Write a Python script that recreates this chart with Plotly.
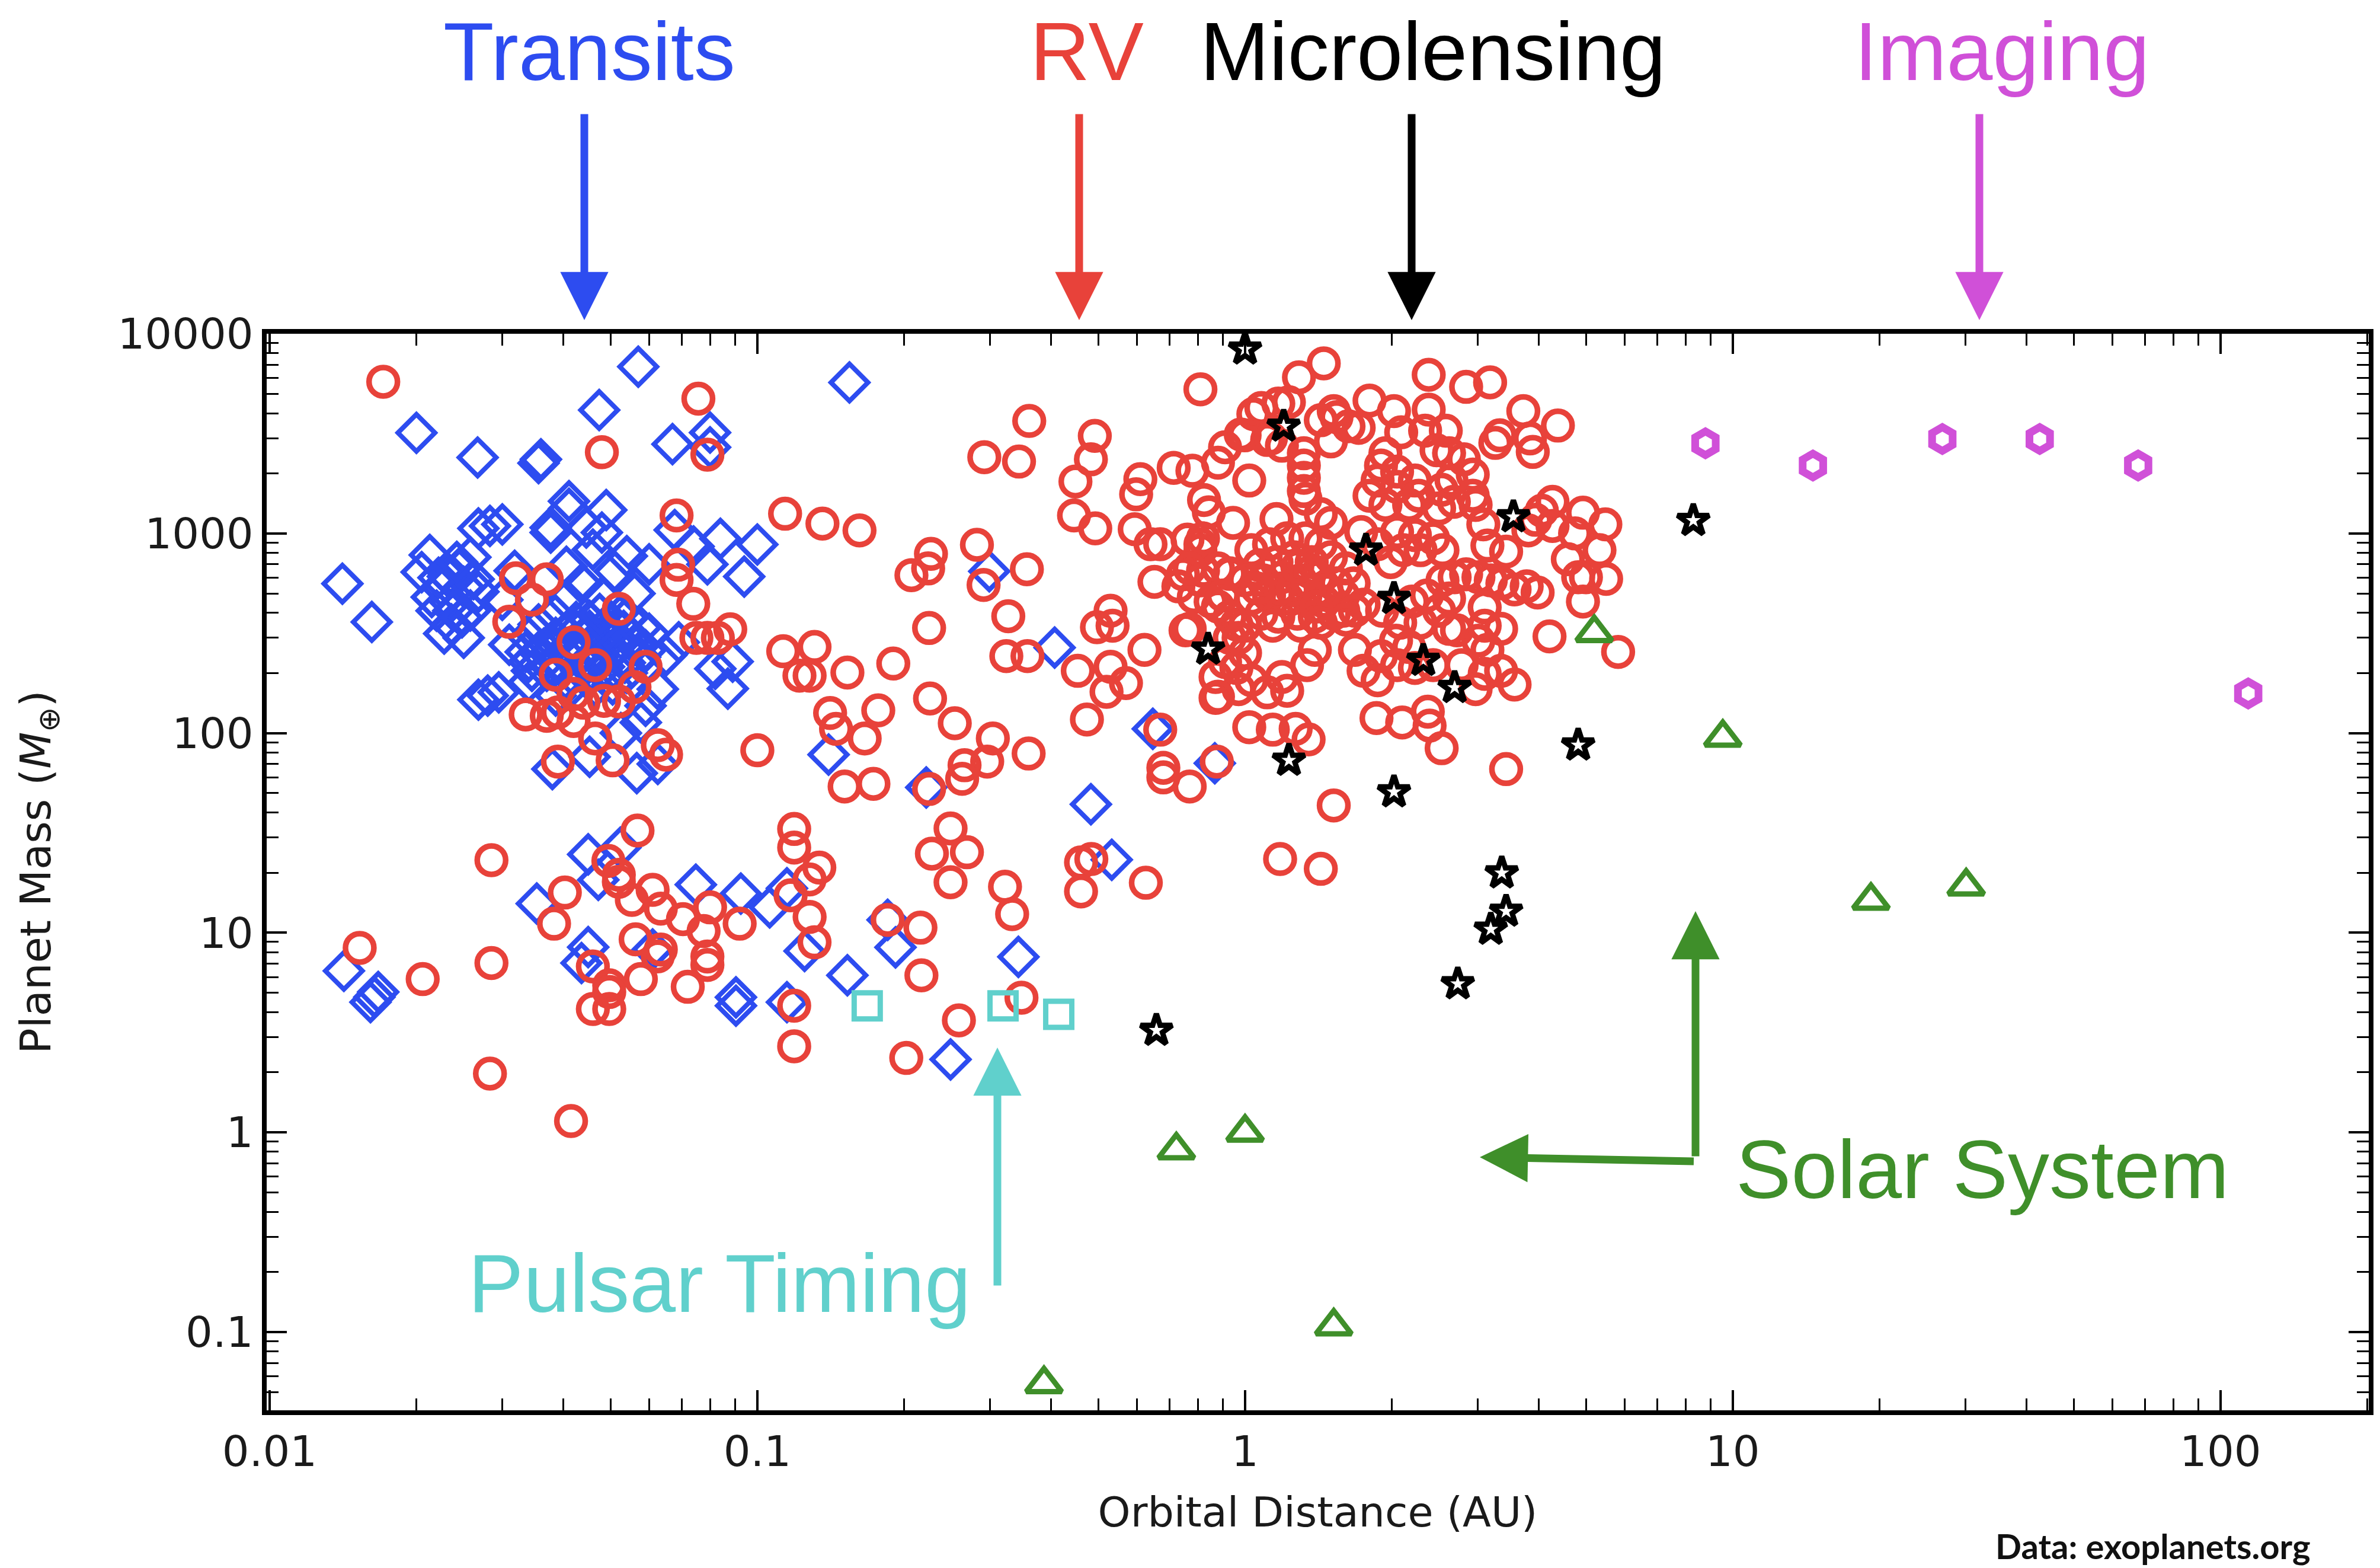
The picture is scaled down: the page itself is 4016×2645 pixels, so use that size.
import plotly.graph_objects as go

# ---------------- data (orbital distance in AU, planet mass in Earth masses) -------------
transits = [
    (0.057, 6840), (0.0474, 4150), (0.020, 3190), (0.0267, 2400), (0.036, 2350), (0.0356, 2250),
    (0.067, 2800), (0.080, 3200), (0.080, 2700), (0.0141, 560), (0.0162, 360), (0.0213, 780),
    (0.0268, 1060), (0.0283, 1090), (0.030, 1110), (0.0411, 1450), (0.0411, 1330), (0.0377, 1070),
    (0.0377, 1010), (0.049, 1310), (0.0446, 1070), (0.048, 1010), (0.046, 830), (0.0677, 1040),
    (0.074, 860), (0.084, 940), (0.100, 880), (0.079, 700), (0.094, 608), (0.054, 770), (0.060, 700),
    (0.051, 645), (0.0406, 680), (0.0437, 560), (0.048, 480), (0.056, 500), (0.0406, 465),
    (0.0318, 650), (0.030, 465), (0.0268, 510), (0.0258, 411), (0.025, 300), (0.0228, 315),
    (0.022, 410), (0.0215, 480), (0.0232, 608), (0.0245, 660), (0.025, 540), (0.0225, 540),
    (0.0238, 410), (0.0236, 350), (0.0258, 760), (0.031, 277), (0.034, 300), (0.0356, 350),
    (0.0386, 300), (0.0418, 277), (0.0453, 325), (0.049, 300), (0.0532, 325), (0.056, 277),
    (0.0525, 237), (0.0475, 245), (0.043, 237), (0.039, 228), (0.0356, 255), (0.034, 228),
    (0.037, 205), (0.0404, 187), (0.0446, 194), (0.049, 194), (0.054, 200), (0.059, 260),
    (0.060, 315), (0.065, 245), (0.069, 285), (0.082, 210), (0.089, 228), (0.087, 167),
    (0.034, 180), (0.0386, 154), (0.0268, 147), (0.028, 154), (0.0295, 160), (0.059, 137),
    (0.0625, 166), (0.0453, 76), (0.0566, 63), (0.0625, 70), (0.038, 66), (0.0525, 100),
    (0.0577, 113), (0.0349, 325), (0.0373, 277), (0.0418, 338), (0.046, 277), (0.0505, 255),
    (0.040, 255), (0.0453, 365), (0.050, 365), (0.054, 380), (0.0577, 338),
    (0.0365, 265), (0.0395, 215), (0.0405, 320), (0.0435, 205), (0.0445, 300), (0.0465, 250),
    (0.0485, 215), (0.0495, 330), (0.0515, 275), (0.0535, 225), (0.0555, 300), (0.0575, 240),
    (0.0425, 360), (0.0475, 395), (0.0385, 390), (0.0335, 255), (0.0345, 205), (0.0505, 175),
    (0.0465, 170), (0.0415, 170), (0.0235, 450), (0.0248, 380), (0.0222, 600), (0.0262, 590),
    (0.0242, 720), (0.0205, 640),
    (0.1545, 5700), (0.299, 646), (0.407, 268), (0.647, 105), (0.14, 78), (0.222, 53.4),
    (0.867, 70.6), (0.483, 44),
    (0.0142, 6.44), (0.0161, 4.49), (0.0164, 4.76), (0.0167, 5.05), (0.0353, 14.0), (0.045, 24.7),
    (0.0524, 26.7), (0.0472, 18.4), (0.045, 8.47), (0.0436, 7.05), (0.061, 8.24), (0.0748, 17.4),
    (0.0925, 15.7), (0.106, 13.4), (0.115, 16.7), (0.0904, 4.75), (0.0904, 4.31), (0.115, 4.49),
    (0.533, 23.2), (0.125, 8.1), (0.153, 6.12), (0.192, 8.45), (0.185, 11.6), (0.343, 7.57),
    (0.249, 2.32),
]

radial_velocity = [
    (0.0171, 5750), (0.0757, 4730), (0.048, 2550), (0.079, 2480), (0.0683, 1230), (0.114, 1255),
    (0.0688, 697), (0.0683, 585), (0.0739, 444), (0.075, 300), (0.079, 300), (0.083, 300),
    (0.088, 331), (0.113, 257), (0.032, 596), (0.037, 589), (0.0345, 466), (0.031, 361),
    (0.052, 419), (0.042, 285), (0.0465, 219), (0.0386, 196), (0.059, 215), (0.056, 170),
    (0.052, 144), (0.0485, 145), (0.044, 142), (0.042, 157), (0.0335, 124), (0.037, 122),
    (0.039, 127), (0.042, 115), (0.0465, 94), (0.039, 72), (0.0505, 73), (0.0625, 87),
    (0.065, 78), (0.1, 82),
    (0.81, 5270), (0.361, 3660), (0.492, 3080), (0.292, 2410), (0.344, 2290), (0.483, 2350),
    (0.449, 1820), (0.446, 1230), (0.493, 1060), (0.714, 2130), (0.78, 2060), (0.88, 2260),
    (0.91, 2700), (0.98, 3130), (0.61, 1870), (0.598, 1570), (0.824, 1470), (0.843, 1275),
    (0.945, 1130), (0.594, 1050), (0.64, 883), (0.67, 883), (0.762, 931), (0.81, 883),
    (0.746, 624), (0.652, 572), (0.82, 650), (0.93, 627), (0.785, 480), (0.88, 430), (0.96, 350),
    (0.755, 327), (0.622, 261), (0.497, 339), (0.53, 410), (0.535, 345), (0.136, 1120),
    (0.162, 1035), (0.282, 877), (0.227, 790), (0.224, 668), (0.207, 618), (0.291, 552),
    (0.357, 662), (0.327, 385), (0.225, 336), (0.131, 270), (0.122, 194), (0.128, 194),
    (0.153, 201), (0.19, 223), (0.324, 243), (0.358, 243), (0.454, 205), (0.53, 215), (0.52, 161),
    (0.57, 178), (0.474, 117), (0.67, 104), (0.87, 150), (0.226, 149), (0.254, 112), (0.141, 126),
    (0.145, 105), (0.166, 94), (0.177, 130), (0.304, 94), (0.296, 72), (0.266, 69), (0.263, 59),
    (0.36, 79), (0.151, 54), (0.173, 55.7), (0.225, 52.5), (0.68, 67), (0.68, 60), (0.77, 54),
    (0.875, 72), (0.73, 543), (0.93, 300),
    (1.29, 6050), (1.45, 7110), (2.38, 6230), (2.84, 5420), (3.18, 5710), (1.80, 4630),
    (2.02, 4100), (2.38, 4170), (3.72, 4100), (4.38, 3470), (3.33, 3100), (3.26, 2840),
    (3.84, 2990), (3.89, 2560), (2.58, 3270), (2.09, 3210), (2.34, 3270), (1.54, 3820),
    (1.63, 3440), (1.71, 3380), (1.52, 4100), (1.50, 2890), (1.08, 4250), (1.17, 4470),
    (1.23, 4540), (0.998, 3100), (1.11, 2940), (1.19, 2750), (1.32, 2520), (1.32, 2190),
    (1.32, 1900), (1.32, 1630), (1.33, 1490), (1.02, 1840), (1.16, 1180), (1.43, 1250),
    (1.50, 1130), (1.94, 2520), (1.90, 2190), (2.05, 2040), (1.87, 1840), (2.05, 1710),
    (2.23, 1840), (1.80, 1545), (1.94, 1390), (2.17, 1390), (2.27, 1545), (2.47, 2610),
    (2.62, 2520), (2.81, 2350), (2.93, 1970), (2.65, 1840), (2.53, 1655), (2.93, 1545),
    (2.68, 1440), (2.50, 1335), (2.97, 1390), (3.08, 1110), (3.14, 869), (3.43, 811),
    (3.81, 1035), (4.27, 1440), (4.27, 1090), (4.93, 1270), (5.48, 1110), (4.75, 1000),
    (5.33, 824), (4.59, 743), (5.0, 603), (5.5, 592), (4.82, 603), (4.93, 456), (4.21, 305),
    (5.82, 255), (3.98, 506), (3.78, 543), (3.57, 524), (3.37, 562), (3.19, 582), (3.01, 603),
    (2.84, 624), (2.69, 603), (2.54, 582), (2.62, 472), (3.10, 426), (3.10, 345), (3.35, 333),
    (3.01, 290), (3.14, 261), (2.72, 327), (2.50, 410), (2.36, 489), (2.20, 456), (2.29, 357),
    (2.08, 357), (1.91, 410), (1.75, 440), (1.67, 562), (1.59, 410), (1.73, 1016), (2.05, 1016),
    (2.23, 980), (2.43, 945), (2.54, 824), (2.11, 824), (2.29, 824), (1.99, 718), (1.87, 883),
    (1.03, 824), (1.12, 883), (1.22, 945), (1.33, 945), (1.43, 883), (1.07, 693), (1.16, 718),
    (1.26, 760), (1.37, 718), (1.50, 760), (1.61, 668), (1.0, 582), (1.09, 582), (1.19, 603),
    (1.30, 582), (1.41, 603), (1.54, 562), (1.03, 472), (1.12, 489), (1.22, 472), (1.33, 489),
    (1.45, 456), (1.59, 489), (1.08, 396), (1.17, 383), (1.28, 396), (1.39, 383), (1.52, 396),
    (1.68, 410), (1.0, 345), (1.14, 345), (1.30, 345), (1.43, 357), (1.61, 370),
    (0.81, 824), (0.88, 668), (0.93, 632), (0.81, 582), (0.90, 489), (0.85, 456), (0.77, 333),
    (0.93, 383), (0.82, 945), (0.77, 668),
    (0.97, 300), (1.0, 252), (0.96, 212), (1.03, 184), (0.97, 166), (0.87, 191), (0.91, 227),
    (0.88, 152), (1.11, 160), (1.22, 163), (1.19, 191), (1.34, 219), (1.39, 261), (1.68, 261),
    (1.75, 205), (1.87, 184), (1.90, 243), (2.04, 290), (2.17, 270), (2.05, 219), (2.23, 212),
    (2.43, 219), (2.78, 219), (3.10, 198), (3.35, 205), (3.57, 175), (2.97, 166), (2.62, 333),
    (1.86, 119), (2.10, 113), (2.37, 128), (2.39, 109), (2.53, 84), (1.02, 107), (1.14, 104),
    (1.27, 105), (1.35, 93), (3.43, 66), (1.52, 43.4),
    (1.04, 3960), (1.13, 2990), (1.43, 3690), (4.06, 1300), (3.94, 1170),
    (1.25, 520), (1.36, 640), (1.18, 530), (1.47, 520), (1.28, 680), (1.40, 430), (1.06, 530),
    (0.0153, 8.4), (0.0206, 5.86), (0.0285, 23.1), (0.0285, 7.05), (0.0283, 1.97), (0.0415, 1.14),
    (0.0403, 15.9), (0.0383, 11.1), (0.0568, 32.5), (0.0495, 22.9), (0.052, 19.5), (0.052, 18.0),
    (0.0553, 14.6), (0.061, 16.4), (0.0634, 13.2), (0.0704, 11.7), (0.080, 13.4), (0.0776, 10.2),
    (0.079, 7.6), (0.079, 6.9), (0.072, 5.36), (0.0563, 9.27), (0.0634, 8.24), (0.0625, 7.62),
    (0.0577, 5.86), (0.046, 6.78), (0.0497, 5.46), (0.0497, 5.05), (0.046, 4.15), (0.0497, 4.15),
    (0.092, 11.1), (0.119, 4.31), (0.119, 2.70), (0.119, 33.1), (0.119, 26.7), (0.117, 15.4),
    (0.134, 21.2), (0.128, 18.5), (0.128, 12.0), (0.131, 8.95), (0.185, 11.6), (0.216, 10.6),
    (0.217, 6.12), (0.249, 33.3), (0.228, 24.9), (0.269, 25.3), (0.249, 17.9), (0.322, 17.0),
    (0.333, 12.4), (0.259, 3.64), (0.348, 4.73), (0.202, 2.36), (0.461, 22.5), (0.484, 23.4),
    (0.461, 16.1), (0.626, 17.8), (1.18, 23.4), (1.43, 20.9),
]

microlensing = [
    (1.0, 8370), (1.20, 3440), (1.77, 824), (3.55, 1210), (2.02, 472), (0.84, 263), (2.32, 231),
    (2.69, 169), (1.23, 73), (2.02, 50.7), (4.82, 87), (8.3, 1160), (3.36, 19.9), (3.43, 12.8),
    (3.19, 10.4), (2.73, 5.54), (0.658, 3.24),
]

imaging = [(8.79, 2830), (14.6, 2190), (26.9, 2970), (42.6, 2970), (67.8, 2190), (114, 158)]

pulsar_timing = [(0.168, 4.3), (0.319, 4.3), (0.415, 3.9)]

solar_system = [(0.387, 0.055), (0.723, 0.815), (1.0, 1.0), (1.52, 0.107),
                (5.2, 318), (9.54, 95), (19.2, 14.5), (30.1, 17.1)]

x_tick_vals = [0.01, 0.1, 1, 10, 100]
x_tick_text = ["0.01", "0.1", "1", "10", "100"]
y_tick_vals = [0.1, 1, 10, 100, 1000, 10000]
y_tick_text = ["0.1", "1", "10", "100", "1000", "10000"]

# ---------------- styling -------------
BLUE = "#2d4cf0"
RED = "#e8423a"
BLACK = "#000000"
MAGENTA = "#d050d8"
TURQ = "#60d0cc"
GREEN = "#3f8f2a"

W, H = 4016, 2645
L, R, T, B = 450, 19, 563, 266
PW, PH = W - L - R, H - T - B


def px(X):
    return (X - L) / PW


def py(Y):
    return (H - B - Y) / PH


def add_series(fig, pts, name, symbol, color, size, lw):
    fig.add_trace(go.Scatter(
        x=[p[0] for p in pts], y=[p[1] for p in pts], mode="markers", name=name,
        marker=dict(symbol=symbol, size=size, color=color, line=dict(width=lw, color=color)),
        showlegend=False, hoverinfo="x+y+name"))


fig = go.Figure()
add_series(fig, transits, "Transits", "diamond-open", BLUE, 48, 8)
add_series(fig, radial_velocity, "RV", "circle-open", RED, 48, 9.5)
add_series(fig, microlensing, "Microlensing", "star-open", BLACK, 40, 9)
add_series(fig, imaging, "Imaging", "hexagon-open", MAGENTA, 40, 13)
add_series(fig, pulsar_timing, "Pulsar Timing", "square-open", TURQ, 44, 9)
add_series(fig, solar_system, "Solar System", "triangle-up-open", GREEN, 52, 9)

minor_x = [k * 10.0 ** d for d in range(-2, 3) for k in range(2, 10)]
minor_y = [k * 10.0 ** d for d in range(-2, 4) for k in range(2, 10)]

axis_common = dict(
    type="log", showgrid=False, zeroline=False, showline=True, linewidth=8, linecolor="black",
    mirror="ticks", ticks="inside", ticklen=34, tickwidth=4, tickcolor="black",
    tickfont=dict(family="DejaVu Sans", size=72, color="#1a1a1a"),
)

fig.update_xaxes(
    **axis_common, range=[-2.006, 2.304], tickmode="array", tickvals=x_tick_vals,
    ticktext=x_tick_text,
    minor=dict(tickmode="array", tickvals=minor_x, ticks="inside", ticklen=20, tickwidth=3,
               tickcolor="black", showgrid=False),
    title=dict(text="Orbital Distance (AU)", standoff=40,
               font=dict(family="DejaVu Sans", size=70, color="#1a1a1a")),
)
fig.update_yaxes(
    **axis_common, range=[-1.392, 4.0], tickmode="array", tickvals=y_tick_vals,
    ticktext=y_tick_text,
    minor=dict(tickmode="array", tickvals=minor_y, ticks="inside", ticklen=20, tickwidth=3,
               tickcolor="black", showgrid=False),
    title=dict(text="Planet Mass (<i>M</i><sub>⊕</sub>)", standoff=92,
               font=dict(family="DejaVu Sans", size=72, color="#1a1a1a")),
)

LABEL_FONT = "Liberation Sans, Arial, sans-serif"
annotations = []

# method labels along the top
for text, cx, color in [("Transits", 994, BLUE), ("RV", 1834, RED),
                        ("Microlensing", 2418, BLACK), ("Imaging", 3378, MAGENTA)]:
    annotations.append(dict(xref="paper", yref="paper", x=px(cx), y=py(86), text=text,
                            showarrow=False, xanchor="center", yanchor="middle",
                            font=dict(family=LABEL_FONT, size=140, color=color)))

# downward arrows
for ax_x, color in [(986, BLUE), (1821, RED), (2382, BLACK), (3340, MAGENTA)]:
    annotations.append(dict(xref="paper", yref="paper", x=px(ax_x), y=py(540), text=" ",
                            showarrow=True, axref="pixel", ayref="pixel", ax=0, ay=-356,
                            arrowhead=2, arrowsize=1.25, arrowwidth=13, arrowcolor=color,
                            standoff=0, startstandoff=0, font=dict(size=10)))

# Pulsar Timing
annotations.append(dict(xref="paper", yref="paper", x=px(1214), y=py(2164), text="Pulsar Timing",
                        showarrow=False, xanchor="center", yanchor="middle",
                        font=dict(family=LABEL_FONT, size=140, color=TURQ)))
annotations.append(dict(xref="paper", yref="paper", x=px(1683), y=py(1767), text=" ",
                        showarrow=True, ax=0, ay=410, arrowhead=2, arrowsize=1.25,
                        arrowwidth=13, arrowcolor=TURQ, standoff=0, font=dict(size=10)))

# Solar System
annotations.append(dict(xref="paper", yref="paper", x=px(3345), y=py(1972), text="Solar System",
                        showarrow=False, xanchor="center", yanchor="middle",
                        font=dict(family=LABEL_FONT, size=140, color=GREEN)))
annotations.append(dict(xref="paper", yref="paper", x=px(2861), y=py(1537), text=" ",
                        showarrow=True, ax=0, ay=422, arrowhead=2, arrowsize=1.25,
                        arrowwidth=13, arrowcolor=GREEN, standoff=0, font=dict(size=10)))
annotations.append(dict(xref="paper", yref="paper", x=px(2497), y=py(1952), text=" ",
                        showarrow=True, ax=364, ay=7, arrowhead=2, arrowsize=1.25,
                        arrowwidth=13, arrowcolor=GREEN, standoff=0, font=dict(size=10)))

# data credit
annotations.append(dict(xref="paper", yref="paper", x=px(3633), y=py(2607),
                        text="<b>Data: exoplanets.org</b>", showarrow=False,
                        xanchor="center", yanchor="middle",
                        font=dict(family="Lato, Open Sans, sans-serif", size=58, color="#111111")))

fig.update_layout(
    width=W, height=H, margin=dict(l=L, r=R, t=T, b=B, autoexpand=False),
    paper_bgcolor="white", plot_bgcolor="white", annotations=annotations, showlegend=False,
)

fig.write_html("out.html", config={"displayModeBar": False},
               post_script="document.body.style.margin='0';")
